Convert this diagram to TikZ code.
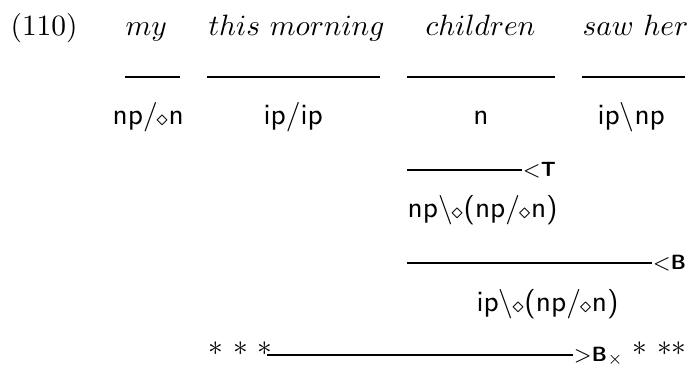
\documentclass[tikz,border=0pt]{standalone}
\newcommand{\ldia}{\kern-0.5pt\raisebox{-0.6pt}{$\scriptstyle\diamond$}\kern0.1pt}
\newcommand{\fsl}{/\ldia}
\newcommand{\bsl}{$\backslash$\ldia}
\tikzset{
  word/.style={inner sep=0pt, anchor=base west},
  cat/.style={inner sep=0pt, anchor=base west, font=\sffamily},
  rlab/.style={inner sep=0pt, anchor=base west, font=\scriptsize},
  rule/.style={line width=0.45pt}
}
\begin{document}
\begin{tikzpicture}[x=0.34pt,y=-0.34pt]
\useasboundingbox (0,0) rectangle (689,368);
% words
\node[word] (ex) at (10,35.5) {(110)};
\node[word] (w1) at (125,35.5) {$my$};
\node[word] (w2) at (208,35.5) {$this\ morning$};
\node[word] (w3) at (425,35.5) {$children$};
\node[word] (w4) at (582,35.5) {$saw\ her$};
% lexical rules
\coordinate (a1) at (125,77); \coordinate (b1) at (180,77);
\coordinate (a2) at (207,77); \coordinate (b2) at (380,77);
\coordinate (a3) at (407,77); \coordinate (b3) at (555,77);
\coordinate (a4) at (582,77); \coordinate (b4) at (685,77);
\draw[rule] (a1) -- (b1);
\draw[rule] (a2) -- (b2);
\draw[rule] (a3) -- (b3);
\draw[rule] (a4) -- (b4);
% categories
\node[cat] (c1) at (112,124) {np\fsl n};
\node[cat] (c2) at (263,124) {ip/ip};
\node[cat,anchor=base] (c3) at (481,124) {n};
\node[cat] (c4) at (597,124) {ip$\backslash$np};
% <T
\coordinate (t1) at (407,170); \coordinate (t2) at (522,170);
\draw[rule] (t1) -- (t2);
\node[rlab] (tl) at (522,176) {$<$\textbf{\textsf{T}}};
\node[cat] (c5) at (407,217) {np\bsl(np\fsl n)};
% <B
\coordinate (u1) at (407,263); \coordinate (u2) at (652,263);
\draw[rule] (u1) -- (u2);
\node[rlab] (ul) at (652,269) {$<$\textbf{\textsf{B}}};
\node[cat] (c6) at (476,311) {ip\bsl(np\fsl n)};
% >Bx
\node[word] (s1) at (208,355) {$\ast$ $\ast$ $\ast$};
\coordinate (v1) at (267,355); \coordinate (v2) at (573,355);
\draw[rule] (v1) -- (v2);
\node[rlab] (vl) at (573,361) {$>$\textbf{\textsf{B}}$_{\times}$};
\node[word] (s2) at (632,355) {$\ast$ $\ast\ast$};
\end{tikzpicture}
\end{document}
